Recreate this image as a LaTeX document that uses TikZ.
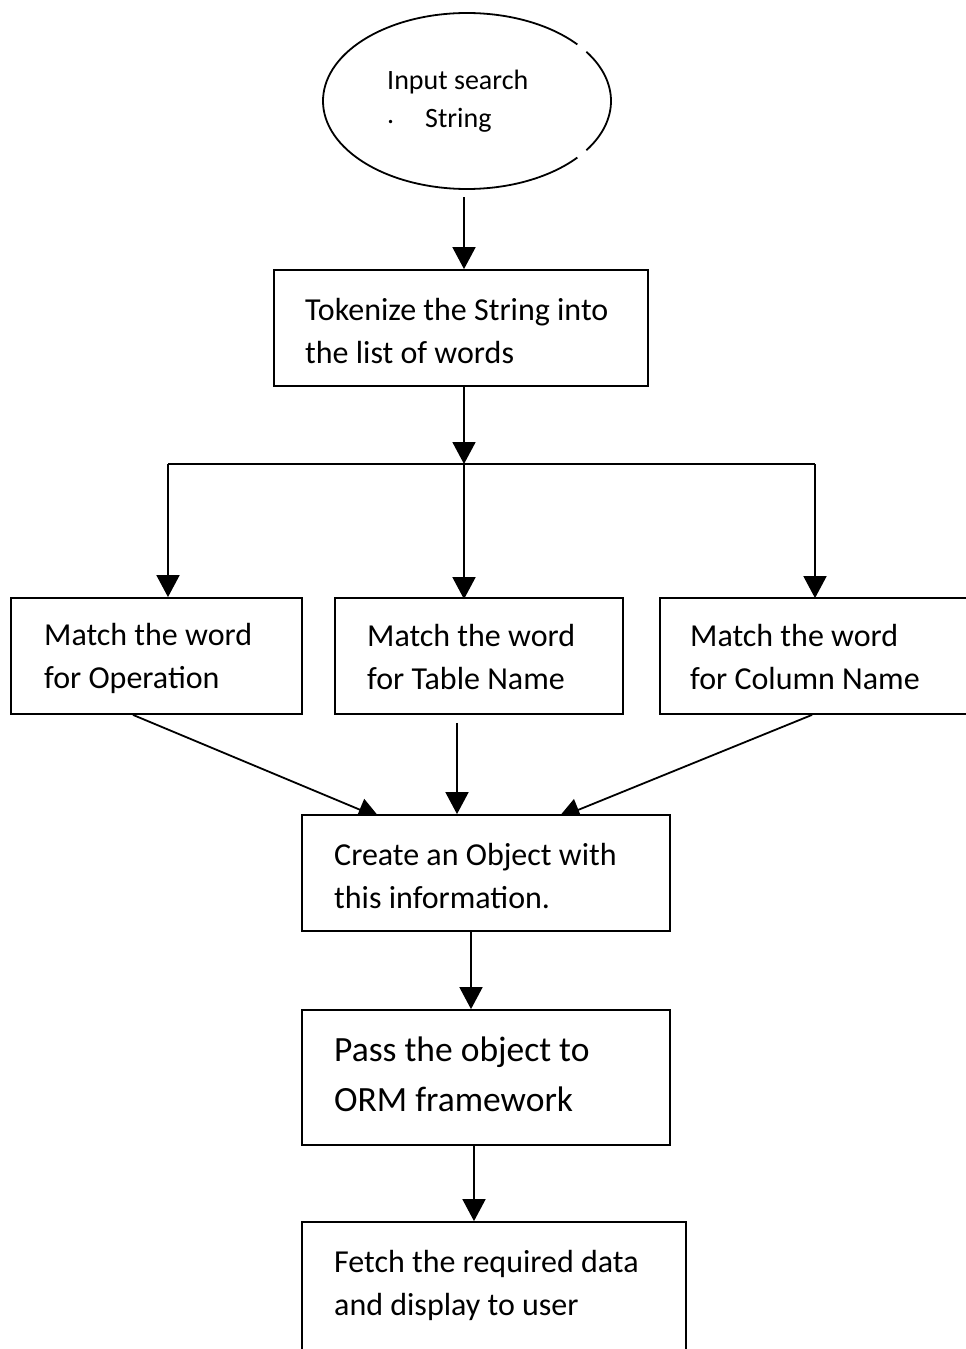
\documentclass[tikz,border=0pt]{standalone}
\usepackage{fontspec}
\setmainfont{Carlito}
\usetikzlibrary{arrows.meta,backgrounds,shapes.geometric}
\begin{document}
\begin{tikzpicture}[x=1pt,y=-1pt,
  box/.style={draw,line width=1.8pt,fill=white,rectangle,inner sep=0pt},
  arr/.style={line width=1.8pt,-{Triangle[width=23pt,length=22pt]}},
  ln/.style={line width=1.8pt},
  txt/.style={font=\fontsize{32}{43}\selectfont,anchor=west,align=left,inner sep=0pt},
  bigtxt/.style={font=\fontsize{35.5}{50}\selectfont,anchor=west,align=left,inner sep=0pt},
  smalltxt/.style={font=\fontsize{28}{30}\selectfont,anchor=west,inner sep=0pt}]
\useasboundingbox (0,0) rectangle (966,1349);
\begin{scope}[on background layer]
  \fill[white] (0,0) rectangle (966,1349);
\end{scope}
\clip (0,0) rectangle (966,1349);

% ellipse
\node[ellipse,draw=none,minimum width=288pt,minimum height=176pt,inner sep=0pt] (inp) at (467,101) {};
\draw[ln] ([shift={(-40:144 and 88)}]inp.center) arc[start angle=-40,end angle=-320,x radius=144,y radius=88];
\draw[ln] ([shift={(34:144 and 88)}]inp.center) arc[start angle=34,end angle=-34,x radius=144,y radius=88];
\node[smalltxt] (in1) at (387,82) {Input search};
\node[smalltxt] (in2) at (425,120) {String};
\node[smalltxt] (indot) at (387,122) {.};

% boxes
\node[box,minimum width=374pt,minimum height=116pt] (tok) at (461,328) {};
\node[txt] (toktext) at (305,331) {Tokenize the String into\\the list of words};

\node[box,minimum width=291pt,minimum height=116pt] (opL) at (156.5,656) {};
\node[txt] (opLtext) at (44,658) {Match the word\\for Operation};
\node[box,minimum width=288pt,minimum height=116pt] (opM) at (479,656) {};
\node[txt] (opMtext) at (367,657) {Match the word\\for Table Name};
\node[box,minimum width=330pt,minimum height=116pt] (opR) at (825,656) {};
\node[txt] (opRtext) at (690,657) {Match the word\\for Column Name};

\node[box,minimum width=368pt,minimum height=116pt] (obj) at (486,873) {};
\node[txt] (objtext) at (334,876) {Create an Object with\\this information.};

\node[box,minimum width=368pt,minimum height=135pt] (pass) at (486,1077.5) {};
\node[bigtxt] (passtext) at (334,1074) {Pass the object to\\ORM framework};

\node[box,minimum width=384pt,minimum height=140pt] (fetch) at (494,1292) {};
\node[txt] (fetchtext) at (334,1285) {Fetch the required data\\and display to user};

% connectors
\coordinate (j) at (464,464);
\coordinate (jl) at (168,464);
\coordinate (jr) at (815,464);
\draw[arr] ([shift={(-3,8)}]inp.south) -- ([shift={(3,0)}]tok.north);
\draw[arr] ([shift={(3,0)}]tok.south) -- (j);
\draw[ln] (jl) -- (jr);
\draw[arr] (jl) -- (jl |- opL.north);
\draw[arr] (j) -- ([yshift=-2]j |- opM.north);
\draw[arr] (jr) -- ([yshift=-1]jr |- opR.north);

\begin{scope}[on background layer]
  \draw[arr] ([xshift=-23.5]opL.south) -- ([shift={(-106,4)}]obj.north);
  \draw[arr] ([shift={(-22,8)}]opM.south) -- ([shift={(-29,0)}]obj.north);
  \draw[arr] ([xshift=-13]opR.south) -- ([shift={(72,4)}]obj.north);
\end{scope}
\draw[arr] ([xshift=-15]obj.south) -- ([xshift=-15]pass.north);
\draw[arr] ([xshift=-12]pass.south) -- ([xshift=-20]fetch.north);
\end{tikzpicture}
\end{document}
